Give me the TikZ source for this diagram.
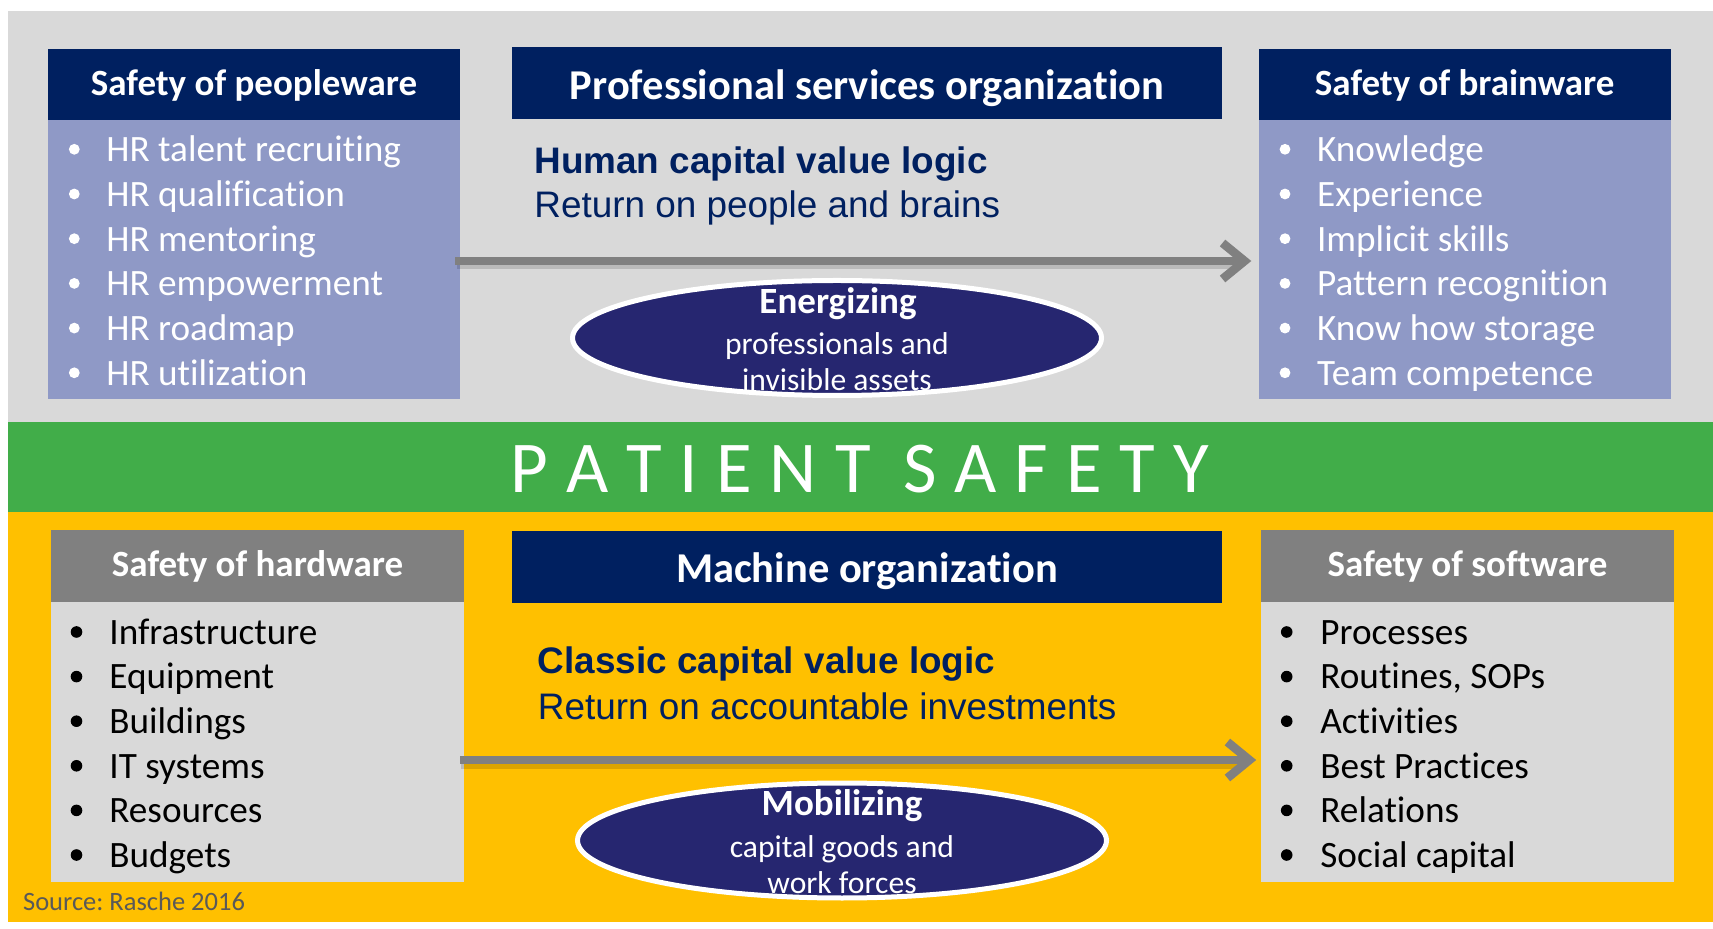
\documentclass[tikz,border=0pt]{standalone}
\usepackage{fontspec}
\setmainfont{Carlito}[Ligatures=NoCommon]
\newfontfamily\arialfont{Liberation Sans}
\usetikzlibrary{arrows.meta,shapes.geometric,fit}
\frenchspacing

\definecolor{navy}{RGB}{0,32,96}
\definecolor{lavender}{RGB}{143,153,198}
\definecolor{panelgray}{RGB}{217,217,217}
\definecolor{headgray}{RGB}{128,128,128}
\definecolor{bandgreen}{RGB}{65,173,73}
\definecolor{gold}{RGB}{255,192,0}
\definecolor{ellnavy}{RGB}{38,38,112}
\definecolor{arrowgray}{RGB}{128,128,128}
\definecolor{srcgray}{RGB}{89,89,89}

\newcommand\fsz[1]{\fontsize{#1}{#1}\selectfont}
\newcommand\lsp{\kern9pt}

\tikzset{
  boxfill/.style={fit={#1}, inner sep=0pt, draw=none},
  hdrtext/.style={text=white, font=\bfseries\fsz{18.5}, inner sep=0pt, anchor=base},
  orgtext/.style={text=white, font=\bfseries\fsz{21.25}, inner sep=0pt, anchor=base},
  item/.style={font=\fsz{18.6}, inner sep=0pt, anchor=base west},
  logichead/.style={text=navy, font=\arialfont\bfseries\fsz{18.45}, inner sep=0pt, anchor=base west},
  logicsub/.style={text=navy, font=\arialfont\fsz{18.45}, inner sep=0pt, anchor=base west},
  oval/.style={ellipse, fill=ellnavy, draw=white, line width=2.5pt, inner sep=0pt,
    minimum width=264.5pt, minimum height=57.5pt},
  ovalhead/.style={text=white, font=\bfseries\fsz{18.5}, inner sep=0pt, anchor=base},
  ovalsub/.style={text=white, font=\fsz{15.8}, inner sep=0pt, anchor=base},
  flow/.style={draw=arrowgray, line width=4.3pt, -{Straight Barb[length=11pt,width=18pt]}},
  flowshadow/.style={draw=black, opacity=0.14, line width=5pt},
}

\begin{document}
\begin{tikzpicture}[x=0.5pt,y=-0.5pt]
\useasboundingbox (0,0) rectangle (1713,929);
\fill[white] (0,0) rectangle (1713,929);

% three horizontal bands
\fill[panelgray] (7.6,11) rectangle (1713,421.7);
\fill[bandgreen] (7.6,421.7) rectangle (1713,512);
\fill[gold] (7.6,512) rectangle (1713,921.7);

% ---------- upper half: professional services organization ----------
\node[boxfill={(48,49) (460,120.5)}, fill=navy] (pwhead) {};
\node[boxfill={(48,120.5) (460,399.5)}, fill=lavender] (pwbody) {};
\node[hdrtext] (pwtitle) at (254,96) {Safety of peopleware};

\node[boxfill={(1258.5,49) (1671,120.5)}, fill=navy] (bwhead) {};
\node[boxfill={(1258.5,120.5) (1671,399.5)}, fill=lavender] (bwbody) {};
\node[hdrtext] (bwtitle) at (1464.7,96) {Safety of brainware};

\node[boxfill={(512,47) (1222,119.3)}, fill=navy] (pshead) {};
\node[orgtext] (pstitle) at (867,99.5) {Professional services organization};

\foreach \t [count=\i] in {HR talent recruiting, HR qualification, HR mentoring,
    HR empowerment, HR roadmap, HR utilization} {
  \fill[white] (74.3,{149.3+(\i-1)*44.7}) circle[radius=2.7pt];
  \node[item, text=white] (pw\i) at (106,{161.7+(\i-1)*44.7}) {\t};
}
\foreach \t [count=\i] in {Knowledge, Experience, Implicit skills,
    Pattern recognition, Know how storage, Team competence} {
  \fill[white] (1285,{149.3+(\i-1)*44.7}) circle[radius=2.7pt];
  \node[item, text=white] (bw\i) at (1316.7,{161.7+(\i-1)*44.7}) {\t};
}

\node[logichead] (hclogic) at (534,173.3) {Human capital value logic};
\node[logicsub] (hcreturn) at (534,217.5) {Return on people and brains};

\draw[flowshadow] ([xshift=-1.5pt,yshift=-2pt]pwbody.east) -- ([xshift=-8pt,yshift=-2pt]bwbody.west);
\draw[flow] ([xshift=-2.5pt,yshift=-0.5pt]pwbody.east) -- ([xshift=-3.4pt,yshift=-0.5pt]bwbody.west);

\node[oval] (energize) at (837,338) {};
\node[ovalhead] (enhead) at (838,313.3) {Energizing};
\node[ovalsub] (enline1) at (837,354.5) {professionals and};
\node[ovalsub] (enline2) at (837,390.5) {invisible assets};

% ---------- central band ----------
\node[text=white, font=\fsz{36.5}, inner sep=0pt, anchor=base west] (patient) at (510,492.3)
  {P\lsp A\lsp T\lsp I\lsp E\lsp N\lsp T\kern16.2pt S\lsp A\lsp F\lsp E\lsp T\lsp Y};

% ---------- lower half: machine organization ----------
\node[boxfill={(51,530) (464,602)}, fill=headgray] (hwhead) {};
\node[boxfill={(51,602) (464,882)}, fill=panelgray] (hwbody) {};
\node[hdrtext] (hwtitle) at (257.5,577) {Safety of hardware};

\node[boxfill={(1261,530.5) (1674,602)}, fill=headgray] (swhead) {};
\node[boxfill={(1261,602) (1674,882)}, fill=panelgray] (swbody) {};
\node[hdrtext] (swtitle) at (1467.5,577) {Safety of software};

\node[boxfill={(512,531) (1222,603)}, fill=navy] (mohead) {};
\node[orgtext] (motitle) at (867,582.3) {Machine organization};

\foreach \t [count=\i] in {Infrastructure, Equipment, Buildings,
    IT systems, Resources, Budgets} {
  \fill[black] (76.5,{632+(\i-1)*44.6}) circle[radius=2.9pt];
  \node[item, text=black] (hw\i) at (109,{644.4+(\i-1)*44.6}) {\t};
}
\foreach \t [count=\i] in {Processes, {Routines, SOPs}, Activities,
    Best Practices, Relations, Social capital} {
  \fill[black] (1286.7,{632+(\i-1)*44.6}) circle[radius=2.9pt];
  \node[item, text=black] (sw\i) at (1320,{644.4+(\i-1)*44.6}) {\t};
}

\node[logichead] (cclogic) at (537.5,673.7) {Classic capital value logic};
\node[logicsub] (ccreturn) at (537.5,719) {Return on accountable investments};

\draw[flowshadow] ([xshift=-1.5pt,yshift=-11pt]hwbody.east) -- ([xshift=-8pt,yshift=-11pt]swbody.west);
\draw[flow] ([xshift=-2pt,yshift=-9pt]hwbody.east) -- ([xshift=-2.2pt,yshift=-9pt]swbody.west);

\node[oval] (mobilize) at (842,840.5) {};
\node[ovalhead] (mohead2) at (842,815.8) {Mobilizing};
\node[ovalsub] (moline1) at (842,857) {capital goods and};
\node[ovalsub] (moline2) at (842,893) {work forces};

\node[text=srcgray, font=\fsz{13.25}, inner sep=0pt, anchor=base west] (source) at (22.7,910.7) {Source: Rasche 2016};
\end{tikzpicture}
\end{document}
